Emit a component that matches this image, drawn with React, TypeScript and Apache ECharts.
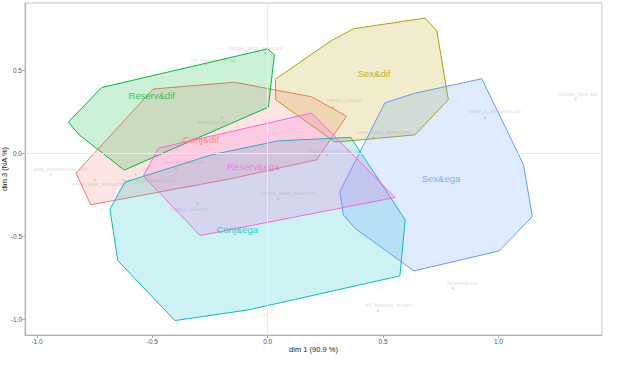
import React, { useEffect, useRef } from "react";
import * as echarts from "echarts";

const xTicks = [-1.0, -0.5, 0.0, 0.5, 1.0];
const yTicks = [-1.0, -0.5, 0.0, 0.5];

const groupNames = ["Conj&dif", "Sex&dif", "Reserv&dif", "Conj&ega", "Sex&ega", "Reserv&ega"];
const groupColors = ["#F8766D", "#B79F00", "#00BA38", "#00BFC4", "#619CFF", "#F564E3"];

const hullConjDif = [
  [-0.496, 0.386], [-0.145, 0.427], [0.191, 0.339], [0.342, 0.222],
  [0.212, -0.040], [-0.163, -0.155], [-0.767, -0.311], [-0.831, -0.120],
];
const hullSexDif = [
  [0.033, 0.445], [0.270, 0.672], [0.371, 0.749], [0.682, 0.813], [0.733, 0.737],
  [0.783, 0.321], [0.638, 0.110], [0.292, 0.066], [0.035, 0.321],
];
const hullReservDif = [
  [-0.864, 0.187], [-0.720, 0.395], [0.0, 0.628], [0.029, 0.592],
  [0.003, 0.277], [-0.622, -0.102], [-0.817, 0.110],
];
const hullConjEga = [
  [-0.619, -0.175], [-0.684, -0.337], [-0.650, -0.647], [-0.402, -1.008], [-0.084, -0.944],
  [0.573, -0.739], [0.596, -0.402], [0.360, 0.095], [0.046, 0.074], [-0.243, -0.010],
];
const hullSexEga = [
  [0.508, 0.303], [0.639, 0.361], [0.928, 0.448], [1.109, -0.070], [1.147, -0.382],
  [1.003, -0.589], [0.634, -0.709], [0.378, -0.452], [0.328, -0.372], [0.313, -0.230],
];
const hullReservEga = [
  [-0.539, -0.137], [-0.474, 0.030], [0.191, 0.241], [0.552, -0.267], [-0.293, -0.496],
];
const hulls = [hullConjDif, hullSexDif, hullReservDif, hullConjEga, hullSexEga, hullReservEga];

const groupLabelX = [-0.289, 0.461, -0.503, -0.132, 0.751, -0.062];
const groupLabelY = [0.084, 0.480, 0.347, -0.462, -0.155, -0.081];

const pointNames = [
  "couple_sans_sexe.oui", "dif_besoins_hf.oui", "feministe.non", "part_expérimenté.non",
  "sexe_sans_amour.non", "sexe_à_plusieurs.non", "couple_libre.non", "happy_celi.non",
  "couple_sans_sexe.non", "happy_celi.oui", "sexe_sans_amour.oui", "part_expérimenté.oui",
  "sexe_à_plusieurs.oui", "couple_libre.oui", "feministe.oui", "dif_besoins_hf.non",
];
const pointX = [-0.012, -0.267, -0.199, -0.939, -0.748, -0.572, -0.397, -0.303, 0.046, 0.284, 0.461, 0.257, 0.942, 1.335, 0.802, 0.479];
const pointY = [0.604, 0.538, 0.217, -0.126, -0.157, -0.127, -0.090, -0.298, -0.275, 0.281, 0.096, -0.010, 0.214, 0.327, -0.810, -0.948];
const labelX = [-0.055, -0.236, -0.236, -0.897, -0.727, -0.518, -0.358, -0.341, 0.087, 0.332, 0.501, 0.292, 0.985, 1.344, 0.844, 0.523];
const labelY = [0.633, 0.562, 0.190, -0.095, -0.183, -0.161, -0.054, -0.336, -0.241, 0.317, 0.128, 0.014, 0.251, 0.357, -0.780, -0.914];

const FONT = "Liberation Sans, Arial, sans-serif";

export default function App() {
  const ref = useRef<HTMLDivElement>(null);
  useEffect(() => {
    if (!ref.current) return;
    const chart = echarts.init(ref.current, undefined, { renderer: "svg" });
    const option: any = {
      animation: false,
      backgroundColor: "#ffffff",
      grid: {
        left: 25, right: 30, top: 3, bottom: 31,
        outerBoundsMode: "none",
        containLabel: false,
        show: true, borderColor: "#c4c4c4", borderWidth: 1, backgroundColor: "#ffffff",
      },
      xAxis: {
        type: "value", min: -1.052, max: 1.449,
        name: "dim 1 (90.9 %)", nameLocation: "middle", nameGap: 10, nameMoveOverlap: false,
        nameTextStyle: { fontFamily: FONT, fontSize: 7.5, color: "#1a1a1a", fontWeight: 400 },
        axisLine: { show: true, onZero: false, lineStyle: { color: "#b0b0b0", width: 1.2 } },
        axisTick: { show: true, length: 3, customValues: xTicks, lineStyle: { color: "#b0b0b0" } },
        axisLabel: {
          customValues: xTicks, margin: 3, fontFamily: FONT, fontSize: 6.5, color: "#555",
          formatter: (v: number) => v.toFixed(1),
        },
        splitLine: { show: false },
      },
      yAxis: {
        type: "value", min: -1.095, max: 0.904,
        name: "dim 3 (NA %)", nameLocation: "middle", nameGap: 17, nameRotate: 90, nameMoveOverlap: false,
        nameTextStyle: { fontFamily: FONT, fontSize: 7.5, color: "#1a1a1a", fontWeight: 400 },
        axisLine: { show: true, onZero: false, lineStyle: { color: "#b0b0b0", width: 1.2 } },
        axisTick: { show: true, length: 3, customValues: yTicks, lineStyle: { color: "#b0b0b0" } },
        axisLabel: {
          customValues: yTicks, margin: 3, fontFamily: FONT, fontSize: 6.5, color: "#555",
          formatter: (v: number) => v.toFixed(1),
        },
        splitLine: { show: false },
      },
      series: [
        {
          type: "scatter",
          data: [[0, 0]],
          symbolSize: 0,
          silent: true,
          markLine: {
            silent: true, symbol: "none", label: { show: false },
            lineStyle: { color: "#ebebeb", width: 1, type: "solid" },
            data: [{ xAxis: 0 }, { yAxis: 0 }],
          },
          z: 1,
        },
        {
          type: "scatter",
          data: pointX.map((x, i) => [x, pointY[i]]),
          symbol: "triangle",
          symbolSize: 3,
          itemStyle: { color: "#cfcfcf" },
          z: 2,
        },
        {
          type: "scatter",
          data: labelX.map((x, i) => [x, labelY[i], pointNames[i]]),
          symbolSize: 0,
          label: {
            show: true, position: "inside",
            formatter: (p: any) => p.value[2],
            fontFamily: FONT, fontSize: 5.5, color: "#d4d4d4",
          },
          z: 2,
        },
        {
          type: "custom",
          coordinateSystem: "cartesian2d",
          data: groupNames.map((_, i) => [groupLabelX[i], groupLabelY[i]]),
          renderItem: (params: any, api: any) => {
            const i = params.dataIndex;
            const pts = hulls[i].map((p) => api.coord(p));
            return {
              type: "polygon",
              shape: { points: pts },
              style: {
                fill: groupColors[i],
                opacity: 1,
                fillOpacity: 0.2,
                stroke: groupColors[i],
                lineWidth: 1,
              },
            } as any;
          },
          z: 3,
        },
        {
          type: "scatter",
          data: groupLabelX.map((x, i) => ({
            value: [x, groupLabelY[i], groupNames[i]],
            label: { color: groupColors[i] },
          })),
          symbolSize: 0,
          label: {
            show: true, position: "inside",
            formatter: (p: any) => p.value[2],
            fontFamily: FONT, fontSize: 9.5,
          },
          z: 4,
        },
      ],
    };
    chart.setOption(option);
    return () => chart.dispose();
  }, []);
  return <div ref={ref} style={{ width: 632, height: 366, position: "absolute", left: 0, top: 0 }} />;
}
